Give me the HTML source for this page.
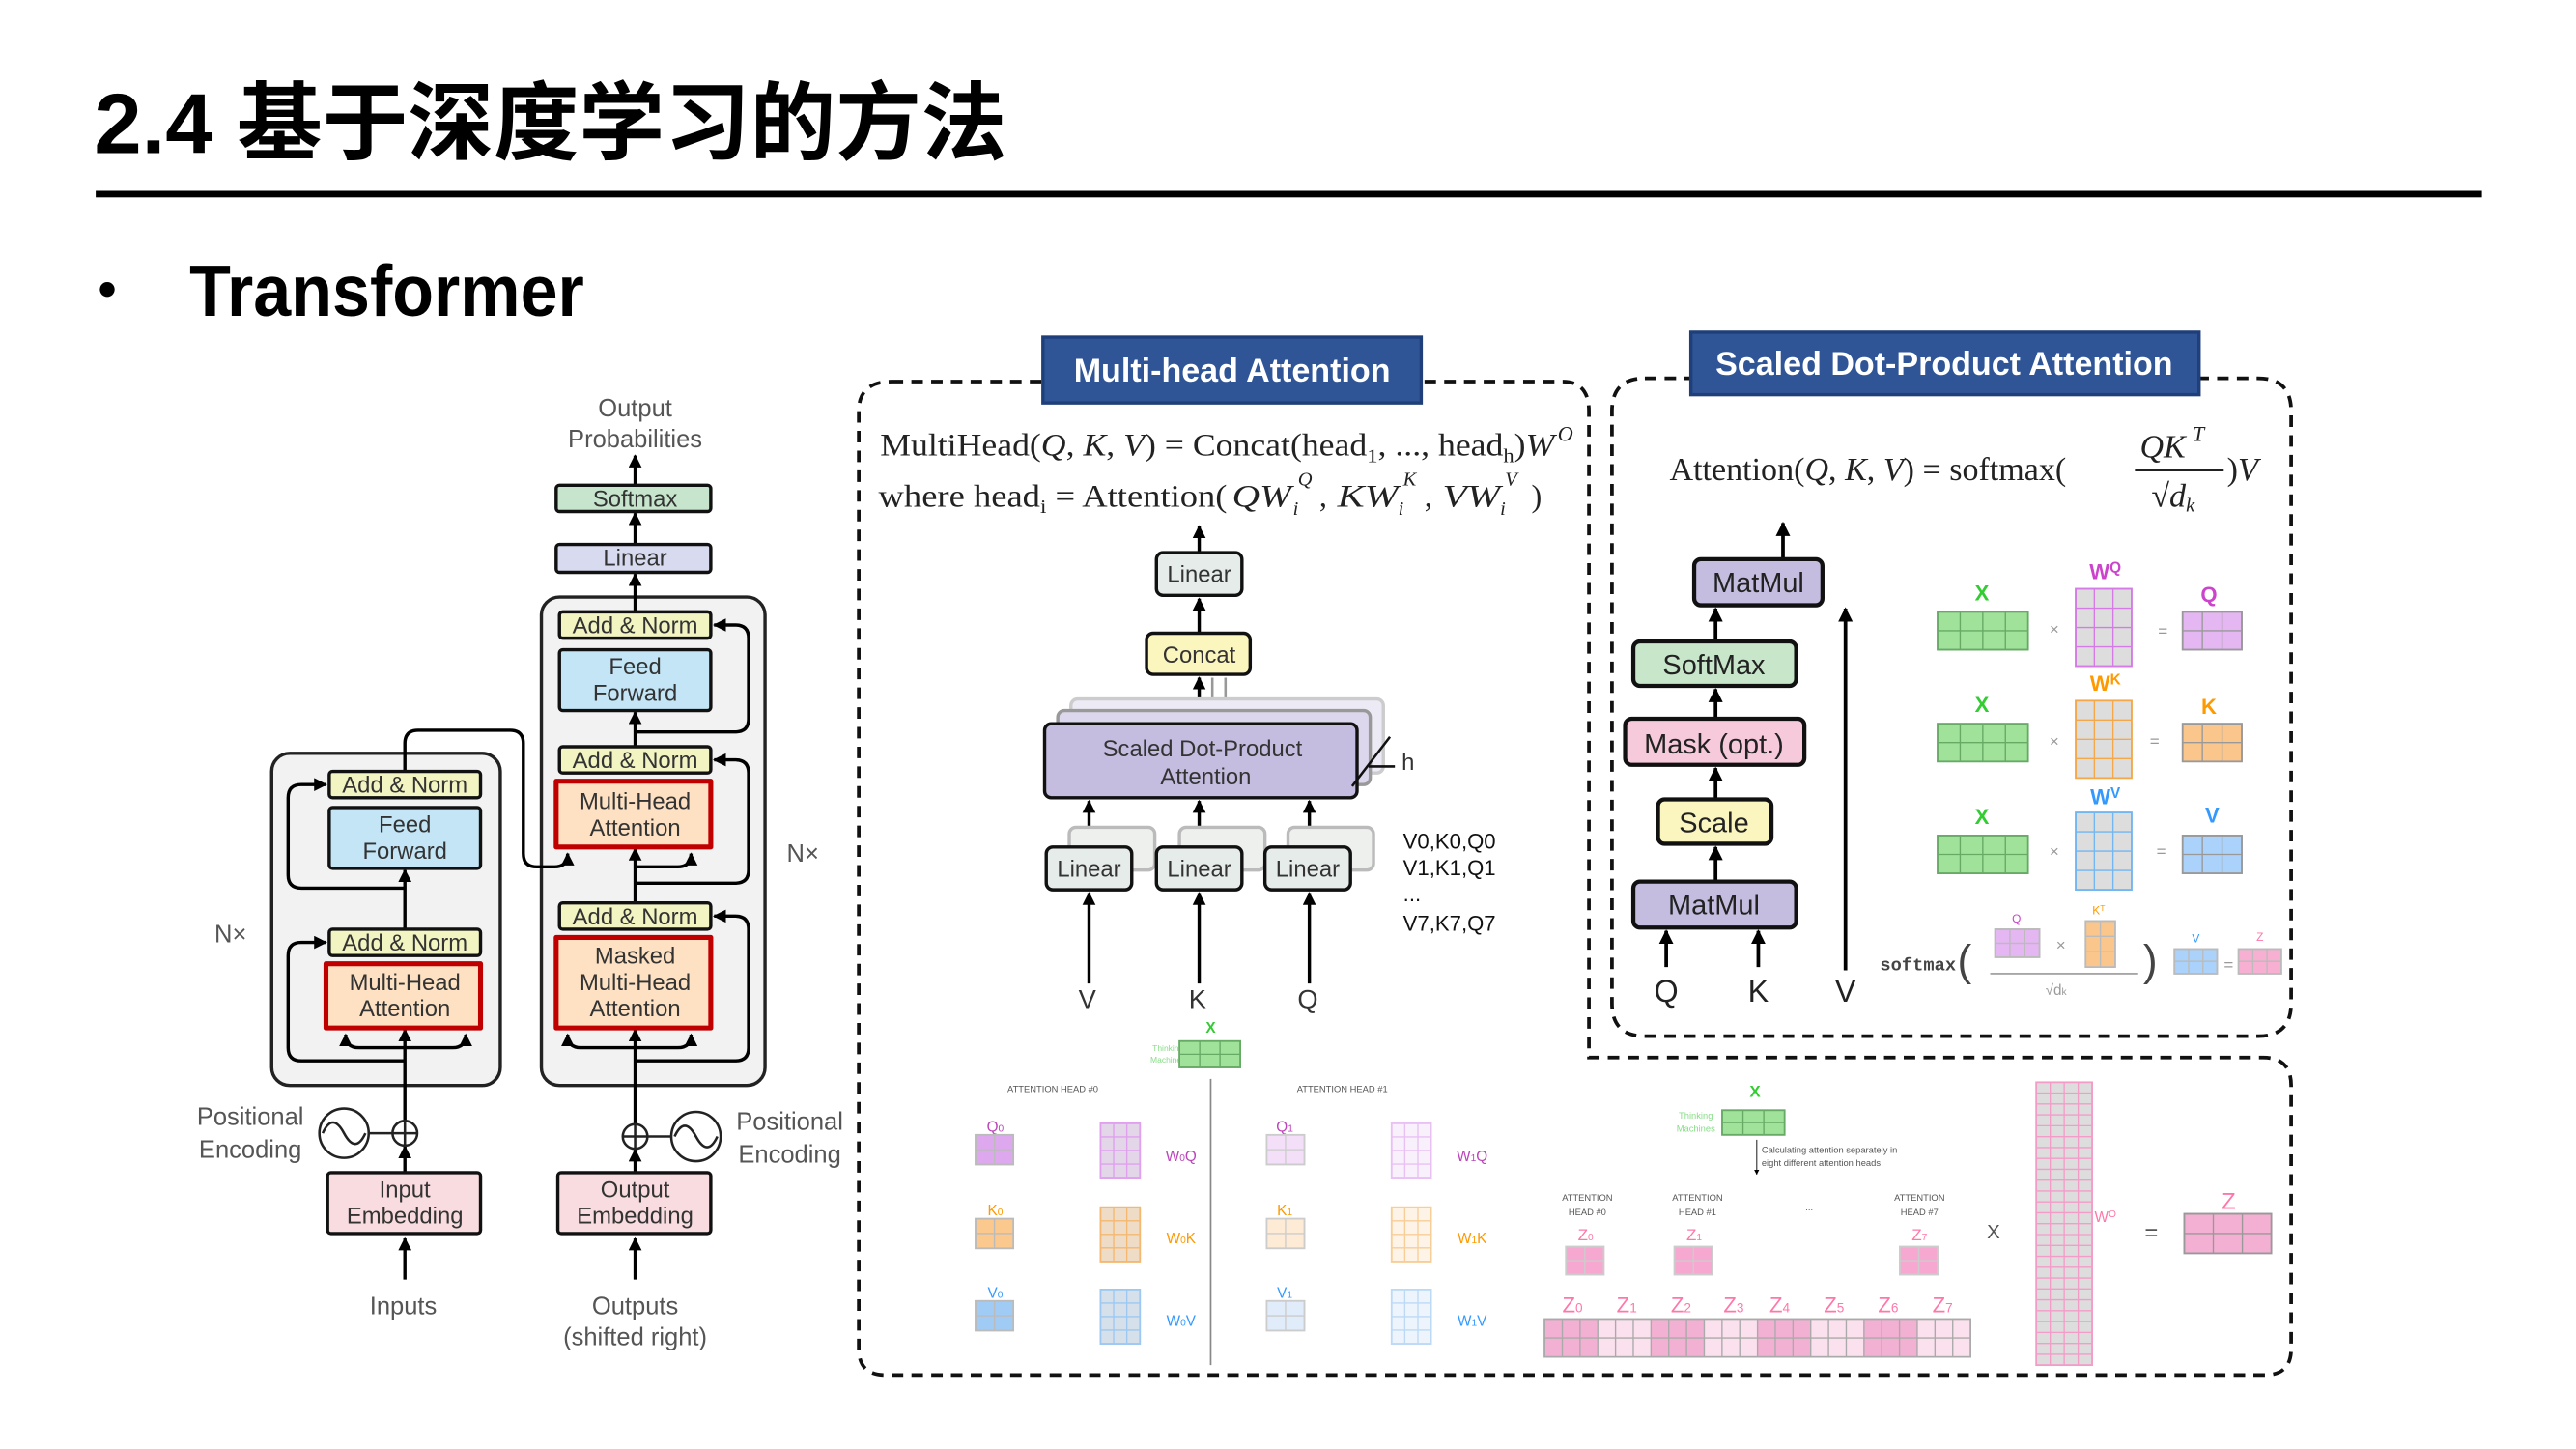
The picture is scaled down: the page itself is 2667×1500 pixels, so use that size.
<!DOCTYPE html>
<html><head><meta charset="utf-8"><style>
html,body{margin:0;padding:0;background:#fff;}
svg{display:block;font-family:"Liberation Sans","Noto Sans CJK SC",sans-serif;}
.s,.s text,.s tspan{font-family:"Liberation Serif",serif;}
.mono{font-family:"Liberation Mono",monospace;}
</style></head><body>
<svg id="sv" width="2667" height="1500" viewBox="0 0 1566 881" xmlns="http://www.w3.org/2000/svg">
<defs>
<marker id="a" viewBox="0 0 10 10" refX="9" refY="5" markerWidth="4" markerHeight="4" orient="auto-start-reverse"><path d="M0,0 L10,5 L0,10 z" fill="#000"/></marker>
</defs>
<rect width="1566" height="881" fill="#fff"/>
<text x="57" y="93" font-size="52" font-weight="bold" textLength="555" lengthAdjust="spacingAndGlyphs">2.4 基于深度学习的方法</text>
<rect x="58" y="116" width="1451" height="4" fill="#000"/>
<circle cx="65" cy="176" r="4.5" fill="#000"/>
<text x="115" y="192" font-size="44" font-weight="bold" textLength="240" lengthAdjust="spacingAndGlyphs">Transformer</text>

<g font-size="14" fill="#333" text-anchor="middle" stroke-linejoin="round">
<rect x="165" y="458" width="139" height="202" rx="11" fill="#F2F2F2" stroke="#222" stroke-width="2"/>
<rect x="329" y="363" width="136" height="297" rx="11" fill="#F2F2F2" stroke="#222" stroke-width="2"/>
<g stroke="#000" stroke-width="2" fill="none">
<path d="M246,778 V753" marker-end="url(#a)"/>
<path d="M246,713 V697" marker-end="url(#a)"/>
<path d="M246,682 V626" marker-end="url(#a)"/>
<path d="M246,637 H218 Q210,637 210,629" marker-end="url(#a)"/>
<path d="M246,637 H275 Q283,637 283,629" marker-end="url(#a)"/>
<path d="M246,565 V529" marker-end="url(#a)"/>
<path d="M246,645 H183 Q175,645 175,637 V581 Q175,573 183,573 H198" marker-end="url(#a)"/>
<path d="M246,540 H183 Q175,540 175,532 V485 Q175,477 183,477 H198" marker-end="url(#a)"/>
<path d="M246,469 V452 Q246,444 254,444 H310 Q318,444 318,452 V519 Q318,527 326,527 H337 Q345,527 345,519" marker-end="url(#a)"/>
<path d="M386,778 V753" marker-end="url(#a)"/>
<path d="M386,713 V699" marker-end="url(#a)"/>
<path d="M386,684 V626" marker-end="url(#a)"/>
<path d="M386,637 H353 Q345,637 345,629" marker-end="url(#a)"/>
<path d="M386,637 H412 Q420,637 420,629" marker-end="url(#a)"/>
<path d="M386,549 V516" marker-end="url(#a)"/>
<path d="M386,527 H412 Q420,527 420,519" marker-end="url(#a)"/>
<path d="M386,454 V433" marker-end="url(#a)"/>
<path d="M386,372 V349" marker-end="url(#a)"/>
<path d="M386,331 V312" marker-end="url(#a)"/>
<path d="M386,295 V277" marker-end="url(#a)"/>
<path d="M386,645 H447 Q455,645 455,637 V565 Q455,557 447,557 H434" marker-end="url(#a)"/>
<path d="M386,537 H447 Q455,537 455,529 V470 Q455,462 447,462 H434" marker-end="url(#a)"/>
<path d="M386,445 H447 Q455,445 455,437 V388 Q455,380 447,380 H434" marker-end="url(#a)"/>
</g>
<rect x="200" y="469" width="92" height="16" rx="2" fill="#F2F4C2" stroke="#111" stroke-width="2"/>
<text x="246" y="482">Add &amp; Norm</text>
<rect x="200" y="491" width="92" height="37" rx="2" fill="#C3E5F5" stroke="#111" stroke-width="2"/>
<text x="246" y="506">Feed</text><text x="246" y="522">Forward</text>
<rect x="200" y="565" width="92" height="16" rx="2" fill="#F2F4C2" stroke="#111" stroke-width="2"/>
<text x="246" y="578">Add &amp; Norm</text>
<rect x="198" y="586" width="94" height="39" fill="#FDE1C2" stroke="#C00000" stroke-width="3"/>
<text x="246" y="602">Multi-Head</text><text x="246" y="618">Attention</text>
<rect x="199" y="713" width="93" height="37" rx="2" fill="#F9DCE0" stroke="#111" stroke-width="2"/>
<text x="246" y="728">Input</text><text x="246" y="744">Embedding</text>
<rect x="338" y="295" width="94" height="16" rx="2" fill="#C6E5CC" stroke="#111" stroke-width="2"/>
<text x="386" y="308">Softmax</text>
<rect x="338" y="331" width="94" height="17" rx="2" fill="#D8DAF0" stroke="#111" stroke-width="2"/>
<text x="386" y="344">Linear</text>
<rect x="340" y="372" width="92" height="16" rx="2" fill="#F2F4C2" stroke="#111" stroke-width="2"/>
<text x="386" y="385">Add &amp; Norm</text>
<rect x="340" y="395" width="92" height="37" rx="2" fill="#C3E5F5" stroke="#111" stroke-width="2"/>
<text x="386" y="410">Feed</text><text x="386" y="426">Forward</text>
<rect x="340" y="454" width="92" height="16" rx="2" fill="#F2F4C2" stroke="#111" stroke-width="2"/>
<text x="386" y="467">Add &amp; Norm</text>
<rect x="338" y="475" width="94" height="40" fill="#FDE1C2" stroke="#C00000" stroke-width="3"/>
<text x="386" y="492">Multi-Head</text><text x="386" y="508">Attention</text>
<rect x="340" y="549" width="92" height="16" rx="2" fill="#F2F4C2" stroke="#111" stroke-width="2"/>
<text x="386" y="562">Add &amp; Norm</text>
<rect x="338" y="570" width="94" height="55" fill="#FDE1C2" stroke="#C00000" stroke-width="3"/>
<text x="386" y="586">Masked</text><text x="386" y="602">Multi-Head</text><text x="386" y="618">Attention</text>
<rect x="339" y="713" width="93" height="37" rx="2" fill="#F9DCE0" stroke="#111" stroke-width="2"/>
<text x="386" y="728">Output</text><text x="386" y="744">Embedding</text>
<g fill="none" stroke="#222" stroke-width="1.5">
<circle cx="246" cy="689" r="7.5"/><path d="M238.5,689 H253.5 M246,681.5 V696.5"/>
<circle cx="209" cy="689" r="15"/><path d="M196,689 Q202,676 209,689 T222,689"/><path d="M224,689 H238.5"/>
<circle cx="386" cy="691" r="7.5"/><path d="M378.5,691 H393.5 M386,683.5 V698.5"/>
<circle cx="423" cy="691" r="15"/><path d="M410,691 Q416,678 423,691 T436,691"/><path d="M393.5,691 H408"/>
</g>
<g font-size="15" fill="#555">
<text x="386" y="253">Output</text><text x="386" y="272">Probabilities</text>
<text x="152" y="684">Positional</text><text x="152" y="704">Encoding</text>
<text x="480" y="687">Positional</text><text x="480" y="707">Encoding</text>
<text x="245" y="799">Inputs</text>
<text x="386" y="799">Outputs</text><text x="386" y="818">(shifted right)</text>
<text x="140" y="573">N×</text><text x="488" y="524">N×</text>
</g>
</g>

<g fill="none" stroke="#111" stroke-width="2.2" stroke-dasharray="7,5">
<path d="M542,232 H950 Q966,232 966,250 V643 H1376 Q1393,643 1393,660 V820 Q1393,836 1377,836 H538 Q522,836 522,820 V250 Q522,232 542,232 Z"/>
<path d="M1000,230 H1373 Q1393,230 1393,250 V610 Q1393,630 1373,630 H1000 Q980,630 980,610 V250 Q980,230 1000,230 Z"/>
</g>
<rect x="634" y="205" width="230" height="40" fill="#2F5597" stroke="#1F3F7A" stroke-width="2"/>
<text x="749" y="232" font-size="20" font-weight="bold" fill="#fff" text-anchor="middle">Multi-head Attention</text>
<rect x="1028" y="202" width="309" height="38" fill="#2F5597" stroke="#1F3F7A" stroke-width="2"/>
<text x="1182" y="228" font-size="20" font-weight="bold" fill="#fff" text-anchor="middle">Scaled Dot-Product Attention</text>

<g class="s" font-size="19" fill="#222">
<text x="535" y="277" textLength="410" lengthAdjust="spacingAndGlyphs">MultiHead(<tspan font-style="italic">Q</tspan>, <tspan font-style="italic">K</tspan>, <tspan font-style="italic">V</tspan>) = Concat(head<tspan font-size="12" dy="4">1</tspan><tspan dy="-4">, ..., head</tspan><tspan font-size="12" dy="4">h</tspan><tspan dy="-4">)</tspan><tspan font-style="italic">W</tspan></text>
<text x="947" y="268" font-size="13" font-style="italic">O</text>
<text x="534" y="308" textLength="212" lengthAdjust="spacingAndGlyphs">where head<tspan font-size="12" dy="4">i</tspan><tspan dy="-4"> = Attention(</tspan></text>
<text x="749" y="308" font-style="italic" textLength="36" lengthAdjust="spacingAndGlyphs">QW</text>
<text x="786" y="313" font-size="12" font-style="italic">i</text><text x="789" y="295" font-size="12" font-style="italic">Q</text>
<text x="802" y="308">,</text>
<text x="813" y="308" font-style="italic" textLength="37" lengthAdjust="spacingAndGlyphs">KW</text>
<text x="850" y="313" font-size="12" font-style="italic">i</text><text x="853" y="295" font-size="12" font-style="italic">K</text>
<text x="866" y="308">,</text>
<text x="877" y="308" font-style="italic" textLength="35" lengthAdjust="spacingAndGlyphs">VW</text>
<text x="912" y="313" font-size="12" font-style="italic">i</text><text x="915" y="295" font-size="12" font-style="italic">V</text>
<text x="931" y="308">)</text>
<text x="1015" y="292" font-size="20">Attention(<tspan font-style="italic">Q</tspan>, <tspan font-style="italic">K</tspan>, <tspan font-style="italic">V</tspan>) = softmax(</text>
<text x="1301" y="278" font-size="20" font-style="italic">QK</text><text x="1333" y="268" font-size="13" font-style="italic">T</text>
<path d="M1298,286 H1352" stroke="#222" stroke-width="1.2"/>
<text x="1308" y="308" font-size="20">√<tspan font-style="italic">d</tspan><tspan font-size="12" font-style="italic" dy="3">k</tspan></text>
<text x="1354" y="292" font-size="20">)<tspan font-style="italic">V</tspan></text>
</g>

<g font-size="14" fill="#333" text-anchor="middle">
<g stroke="#000" stroke-width="2" fill="none">
<path d="M729,336 V320" marker-end="url(#a)"/>
<path d="M729,385 V364" marker-end="url(#a)"/>
<path d="M729,440 V412" marker-end="url(#a)"/>
<path d="M662,515 V487" marker-end="url(#a)"/><path d="M729,515 V487" marker-end="url(#a)"/><path d="M796,515 V487" marker-end="url(#a)"/>
<path d="M662,598 V543" marker-end="url(#a)"/><path d="M729,598 V543" marker-end="url(#a)"/><path d="M796,598 V543" marker-end="url(#a)"/>
</g>
<path d="M737,440 V412 M745,430 V412" stroke="#999" stroke-width="1.5"/>
<rect x="651" y="425" width="190" height="45" rx="4" fill="#ECEAF4" stroke="#ccc" stroke-width="2"/>
<rect x="643" y="432" width="190" height="45" rx="4" fill="#DCD7EC" stroke="#999" stroke-width="2"/>
<rect x="703" y="336" width="52" height="26" rx="4" fill="#E6ECEA" stroke="#111" stroke-width="2"/>
<text x="729" y="354">Linear</text>
<rect x="697" y="385" width="63" height="25" rx="4" fill="#FBF5BE" stroke="#111" stroke-width="2"/>
<text x="729" y="403">Concat</text>
<rect x="635" y="440" width="190" height="45" rx="4" fill="#C5BDDF" stroke="#111" stroke-width="2"/>
<text x="731" y="460">Scaled Dot-Product</text><text x="733" y="477">Attention</text>
<path d="M845,448 L822,478 M832,466 H848" stroke="#111" stroke-width="1.5" fill="none"/>
<text x="856" y="468">h</text>
<g fill="#eef0ee" stroke="#bbb" stroke-width="2">
<rect x="650" y="503" width="52" height="26" rx="4"/><rect x="717" y="503" width="52" height="26" rx="4"/><rect x="783" y="503" width="52" height="26" rx="4"/>
</g>
<g fill="#E6ECEA" stroke="#111" stroke-width="2">
<rect x="636" y="515" width="52" height="26" rx="4"/><rect x="703" y="515" width="52" height="26" rx="4"/><rect x="769" y="515" width="52" height="26" rx="4"/>
</g>
<text x="662" y="533">Linear</text><text x="729" y="533">Linear</text><text x="795" y="533">Linear</text>
<text x="661" y="613" font-size="16">V</text><text x="728" y="613" font-size="16">K</text><text x="795" y="613" font-size="16">Q</text>
<g text-anchor="start" font-size="13" fill="#111">
<text x="853" y="516">V0,K0,Q0</text><text x="853" y="532">V1,K1,Q1</text><text x="853" y="548">...</text><text x="853" y="566">V7,K7,Q7</text>
</g>
</g>

<g font-size="17" fill="#222" text-anchor="middle">
<g stroke="#000" stroke-width="2.2" fill="none">
<path d="M1084,340 V318" marker-end="url(#a)"/>
<path d="M1043,390 V370" marker-end="url(#a)"/>
<path d="M1043,437 V419" marker-end="url(#a)"/>
<path d="M1043,486 V467" marker-end="url(#a)"/>
<path d="M1043,536 V515" marker-end="url(#a)"/>
<path d="M1013,588 V566" marker-end="url(#a)"/>
<path d="M1069,588 V566" marker-end="url(#a)"/>
<path d="M1122,590 V370" marker-end="url(#a)"/>
</g>
<g stroke="#111" stroke-width="2.5">
<rect x="1030" y="340" width="78" height="28" rx="4" fill="#C5BDDF"/>
<rect x="993" y="390" width="99" height="27" rx="4" fill="#C8E6C9"/>
<rect x="988" y="437" width="109" height="28" rx="4" fill="#F6CADB"/>
<rect x="1008" y="486" width="69" height="27" rx="4" fill="#FBF6C0"/>
<rect x="993" y="536" width="99" height="28" rx="4" fill="#C5BDDF"/>
</g>
<text x="1069" y="360">MatMul</text>
<text x="1042" y="410">SoftMax</text>
<text x="1042" y="458">Mask (opt.)</text>
<text x="1042" y="506">Scale</text>
<text x="1042" y="556">MatMul</text>
<text x="1013" y="609" font-size="19">Q</text><text x="1069" y="609" font-size="19">K</text><text x="1122" y="609" font-size="19">V</text>
</g>
<g font-size="13" font-weight="bold" text-anchor="middle">
<text x="1205" y="365" fill="#3c3">X</text><text x="1280" y="352" fill="#c4c">W<tspan font-size="9" dy="-4">Q</tspan></text><text x="1343" y="366" fill="#c4c">Q</text>
<text x="1205" y="433" fill="#3c3">X</text><text x="1280" y="420" fill="#f90">W<tspan font-size="9" dy="-4">K</tspan></text><text x="1343" y="434" fill="#f90">K</text>
<text x="1205" y="501" fill="#3c3">X</text><text x="1280" y="489" fill="#39f">W<tspan font-size="9" dy="-4">V</tspan></text><text x="1345" y="500" fill="#39f">V</text>
</g>
<g font-size="10" fill="#999" text-anchor="middle">
<text x="1249" y="386">×</text><text x="1315" y="387">=</text>
<text x="1249" y="454">×</text><text x="1310" y="454">=</text>
<text x="1249" y="521">×</text><text x="1314" y="521">=</text>
<text x="1253" y="578">×</text><text x="1355" y="590">=</text>
<text x="1226" y="561" font-size="7" fill="#c4c">Q</text><text x="1276" y="556" font-size="7" fill="#f90">K<tspan font-size="5" dy="-2">T</tspan></text>
<text x="1335" y="573" font-size="7" fill="#39f">V</text><text x="1374" y="572" font-size="7" fill="#f7a">Z</text>
<text x="1250" y="605" font-size="9">√d<tspan font-size="6">k</tspan></text>
</g>
<text x="1143" y="590" font-size="11" font-weight="bold" fill="#444" class="mono">softmax</text>
<text x="1190" y="593" font-size="26" fill="#444">(</text><text x="1303" y="593" font-size="26" fill="#444">)</text>
<path d="M1210,592 H1300" stroke="#999" stroke-width="1"/>

<g text-anchor="middle">
<text x="736" y="628" font-size="9" font-weight="bold" fill="#3c3">X</text>
<text x="710" y="639" font-size="5" fill="#8d8">Thinking</text><text x="710" y="646" font-size="5" fill="#8d8">Machines</text>
<text x="640" y="664" font-size="5.5" fill="#555">ATTENTION HEAD #0</text>
<text x="816" y="664" font-size="5.5" fill="#555">ATTENTION HEAD #1</text>
<path d="M736,656 V830" stroke="#888" stroke-width="1"/>
<g font-size="9">
<text x="605" y="688" fill="#b4b">Q<tspan font-size="6">0</tspan></text><text x="605" y="739" fill="#f90">K<tspan font-size="6">0</tspan></text><text x="605" y="789" fill="#39f">V<tspan font-size="6">0</tspan></text>
<text x="781" y="688" fill="#b4b">Q<tspan font-size="6">1</tspan></text><text x="781" y="739" fill="#f90">K<tspan font-size="6">1</tspan></text><text x="781" y="789" fill="#39f">V<tspan font-size="6">1</tspan></text>
<text x="718" y="706" fill="#b4b">W<tspan font-size="6">0</tspan>Q</text><text x="718" y="756" fill="#f90">W<tspan font-size="6">0</tspan>K</text><text x="718" y="806" fill="#39f">W<tspan font-size="6">0</tspan>V</text>
<text x="895" y="706" fill="#b4b">W<tspan font-size="6">1</tspan>Q</text><text x="895" y="756" fill="#f90">W<tspan font-size="6">1</tspan>K</text><text x="895" y="806" fill="#39f">W<tspan font-size="6">1</tspan>V</text>
</g>
<text x="1067" y="667" font-size="10" font-weight="bold" fill="#3c3">X</text>
<text x="1031" y="680" font-size="5.5" fill="#8d8">Thinking</text><text x="1031" y="688" font-size="5.5" fill="#8d8">Machines</text>
<path d="M1068,693 V714" stroke="#555" stroke-width="0.8" marker-end="url(#a)"/>
<text x="1071" y="701" font-size="5.5" fill="#555" text-anchor="start">Calculating attention separately in</text>
<text x="1071" y="709" font-size="5.5" fill="#555" text-anchor="start">eight different attention heads</text>
<g font-size="5.5" fill="#555">
<text x="965" y="730">ATTENTION</text><text x="965" y="739">HEAD #0</text>
<text x="1032" y="730">ATTENTION</text><text x="1032" y="739">HEAD #1</text>
<text x="1100" y="736">...</text>
<text x="1167" y="730">ATTENTION</text><text x="1167" y="739">HEAD #7</text>
</g>
<g font-size="10" fill="#f7a">
<text x="964" y="754">Z<tspan font-size="6">0</tspan></text><text x="1030" y="754">Z<tspan font-size="6">1</tspan></text><text x="1167" y="754">Z<tspan font-size="6">7</tspan></text>
</g>
<g font-size="13" fill="#f7a">
<text x="956" y="798">Z<tspan font-size="8">0</tspan></text><text x="989" y="798">Z<tspan font-size="8">1</tspan></text><text x="1022" y="798">Z<tspan font-size="8">2</tspan></text><text x="1054" y="798">Z<tspan font-size="8">3</tspan></text>
<text x="1082" y="798">Z<tspan font-size="8">4</tspan></text><text x="1115" y="798">Z<tspan font-size="8">5</tspan></text><text x="1148" y="798">Z<tspan font-size="8">6</tspan></text><text x="1181" y="798">Z<tspan font-size="8">7</tspan></text>
</g>
<text x="1212" y="753" font-size="12" fill="#555">X</text>
<text x="1280" y="743" font-size="9" fill="#f7a">W<tspan font-size="6" dy="-3">O</tspan></text>
<text x="1308" y="754" font-size="14" fill="#555">=</text>
<text x="1355" y="735" font-size="14" fill="#f7a">Z</text>
</g>
<g id="mats"></g>
</svg>
<script>
var g=document.getElementById('mats'),NS='http://www.w3.org/2000/svg';
function el(t,a){var e=document.createElementNS(NS,t);for(var k in a)e.setAttribute(k,a[k]);g.appendChild(e);return e;}
function m(x,y,w,h,c,r,f,s,cellf){
 el('rect',{x:x,y:y,width:w,height:h,fill:f,stroke:s,'stroke-width':1});
 if(cellf){for(var i=0;i<c;i++){el('rect',{x:x+i*w/c,y:y,width:w/c,height:h,fill:cellf(i),stroke:'none'});}}
 var d='';for(var i=1;i<c;i++){var xx=x+i*w/c;d+='M'+xx+','+y+'V'+(y+h);}
 for(var j=1;j<r;j++){var yy=y+j*h/r;d+='M'+x+','+yy+'H'+(x+w);}
 el('path',{d:d,stroke:s,'stroke-width':0.8,fill:'none'});
 el('rect',{x:x,y:y,width:w,height:h,fill:'none',stroke:s,'stroke-width':1});
}
var G='#A0E29A',Gs='#6a6';
[0,68,136].forEach(function(o){m(1178,372+o,55,23,4,2,G,Gs);});
m(1262,358,34,47,3,4,'#ddd','#D47BE6');m(1327,372,36,23,3,2,'#E4B6F2','#999');
m(1262,426,34,47,3,4,'#ddd','#F5A84A');m(1327,440,36,23,3,2,'#FAC68C','#999');
m(1262,494,34,47,3,4,'#ddd','#72B6F2');m(1327,508,36,23,3,2,'#AAD2FA','#999');
m(1213,565,27,17,3,2,'#E4B6F2','#bbb');m(1268,560,18,28,2,3,'#FAC68C','#bbb');
m(1322,577,26,15,3,2,'#AAD2FA','#bbb');m(1361,577,26,15,3,2,'#F7B0D2','#bbb');
m(717,633,37,16,3,2,G,Gs);m(1047,675,38,15,3,2,G,Gs);
m(593,690,23,18,2,2,'#DDA8EE','#bbb');m(669,683,24,33,3,4,'#e2d6e8','#E0A0EE');
m(593,741,23,18,2,2,'#FBC88E','#bbb');m(669,734,24,33,3,4,'#efdcc6','#F5B870');
m(593,791,23,18,2,2,'#9FCBF5','#bbb');m(669,784,24,33,3,4,'#d6e0ea','#9CC8F2');
m(770,690,23,18,2,2,'#F3E0F8','#ccc');m(846,683,24,33,3,4,'#f8f0fa','#E9C0F4');
m(770,741,23,18,2,2,'#FDEBD6','#ccc');m(846,734,24,33,3,4,'#fdf3e6','#F8CE98');
m(770,791,23,18,2,2,'#E0ECF9','#ccc');m(846,784,24,33,3,4,'#eef4fb','#BCDAF6');
m(952,758,23,17,2,2,'#F7A8D0','#ccc');m(1018,758,23,17,2,2,'#F7A8D0','#ccc');m(1155,758,23,17,2,2,'#F7A8D0','#ccc');
m(939,802,259,23,24,2,'#F7B6D6','#aaa',function(i){return Math.floor(i/3)%2?'#FBE0EE':'#F2B0D2';});
m(1238,658,34,172,4,26,'#ddd','#F49CC8');
m(1328,738,53,24,3,2,'#F4B0D2','#999');
</script>
</body></html>
